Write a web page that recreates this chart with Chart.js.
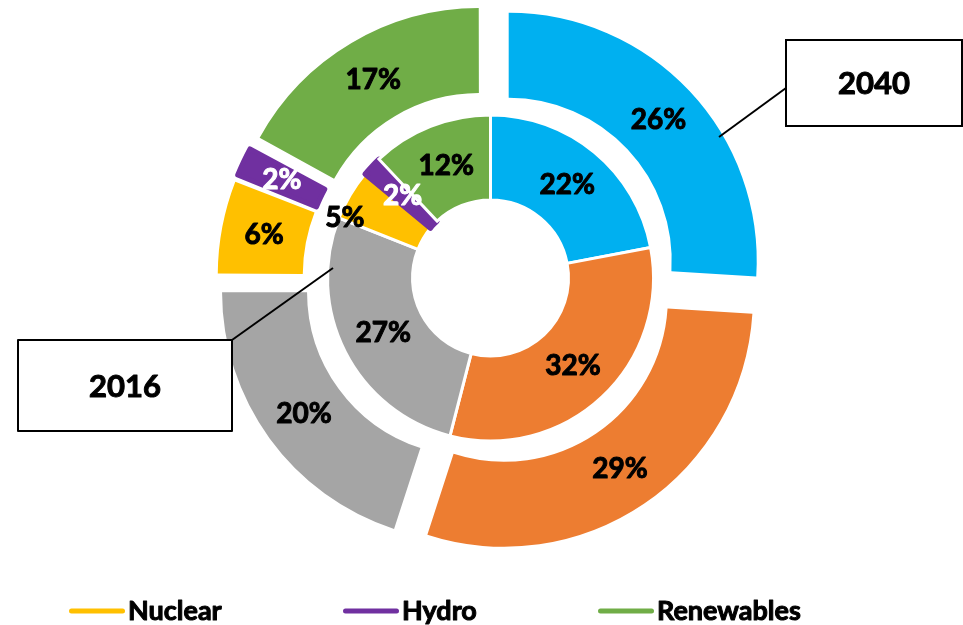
<!DOCTYPE html>
<html>
<head>
<meta charset="utf-8">
<title>Energy mix 2016 vs 2040</title>
<script src="https://cdn.jsdelivr.net/npm/chart.js@4/dist/chart.umd.min.js"></script>
<style>
  html, body { margin: 0; padding: 0; background: #ffffff; }
  #wrap { width: 963px; height: 625px; position: relative; }
</style>
</head>
<body>
<div id="wrap"><canvas id="mix" width="963" height="625"></canvas></div>
<script>
// Share of each source, in percent
const categories = ['Gas', 'Oil', 'Coal', 'Nuclear', 'Hydro', 'Renewables'];
const share2040 = [26, 29, 20, 6, 2, 17];
const share2016 = [22, 32, 27, 5, 2, 12];
const ringYears = ['2040', '2016'];
const legendEntries = ['Nuclear', 'Hydro', 'Renewables'];

const palette = ['#00B0F0', '#ED7D31', '#A5A5A5', '#FFC000', '#7030A0', '#70AD47'];
const FONT = "Lato, 'Open Sans', 'DejaVu Sans', sans-serif";
const EXPLODE = 25; // radial shift of the outer slices, px

// Chart.js moves an arc by offset/4 and widens small arcs a little more;
// scale the offset so every slice ends up shifted by the same distance.
function explodeOffset(ctx) {
  if (ctx.type !== 'data') return 0;
  const total = ctx.dataset.data.reduce((a, b) => a + b, 0);
  const circ = ctx.raw / total * 2 * Math.PI;
  const fix = 1 - Math.sin(Math.min(Math.PI, circ));
  return 4 * EXPLODE / (1 + fix);
}

// Heavy text: fill plus a thin outline in the same colour
function heavyText(ctx, text, x, y, color) {
  ctx.fillStyle = color;
  ctx.strokeStyle = color;
  ctx.lineWidth = 1;
  ctx.lineJoin = 'round';
  ctx.fillText(text, x, y);
  ctx.strokeText(text, x, y);
}

// Percent labels placed at the middle of every drawn slice
const sliceLabels = {
  id: 'sliceLabels',
  afterDatasetsDraw(chart, args, opts) {
    const ctx = chart.ctx;
    ctx.save();
    ctx.font = 'bold ' + opts.size + 'px ' + FONT;
    ctx.textAlign = 'center';
    ctx.textBaseline = 'middle';
    chart.data.datasets.forEach((ds, di) => {
      const meta = chart.getDatasetMeta(di);
      meta.data.forEach((arc, i) => {
        const p = arc.getProps(['x', 'y', 'startAngle', 'endAngle', 'innerRadius', 'outerRadius', 'circumference'], true);
        const o = (arc.options.offset || 0) / 4;
        const fix = 1 - Math.sin(Math.min(Math.PI, p.circumference));
        const mid = (p.startAngle + p.endAngle) / 2;
        const r = (p.innerRadius + p.outerRadius) / 2 + o + o * fix;
        let lx = p.x + Math.cos(mid) * r;
        let ly = p.y + Math.sin(mid) * r;
        const nudge = (opts.nudge[di] || {})[i];
        if (nudge) { lx += nudge[0]; ly += nudge[1]; }
        heavyText(ctx, ds.data[i] + '%', lx, ly, opts.colors[i]);
      });
    });
    ctx.restore();
  }
};

// Year call-out boxes with leader lines to their ring
const ringCallouts = {
  id: 'ringCallouts',
  afterDraw(chart, args, opts) {
    const ctx = chart.ctx;
    ctx.save();
    opts.items.forEach(it => {
      ctx.strokeStyle = '#000000';
      ctx.lineWidth = 2;
      ctx.beginPath();
      ctx.moveTo(it.from[0], it.from[1]);
      ctx.lineTo(it.to[0], it.to[1]);
      ctx.stroke();
      ctx.fillStyle = '#ffffff';
      ctx.fillRect(it.box[0], it.box[1], it.box[2], it.box[3]);
      ctx.strokeRect(it.box[0], it.box[1], it.box[2], it.box[3]);
      ctx.font = 'bold 31px ' + FONT;
      ctx.textAlign = 'center';
      ctx.textBaseline = 'middle';
      heavyText(ctx, chart.data.datasets[it.dataset].label,
                it.box[0] + it.box[2] / 2, it.box[1] + it.box[3] / 2 + 1, '#000000');
    });
    ctx.restore();
  }
};

// Legend drawn with short line markers
const lineLegend = {
  id: 'lineLegend',
  afterDraw(chart, args, opts) {
    const ctx = chart.ctx;
    ctx.save();
    ctx.font = 'bold 27px ' + FONT;
    ctx.textAlign = 'left';
    ctx.textBaseline = 'middle';
    opts.entries.forEach((name, k) => {
      const idx = chart.data.labels.indexOf(name);
      const color = chart.data.datasets[0].backgroundColor[idx];
      const x = opts.x[k];
      ctx.strokeStyle = color;
      ctx.lineWidth = 5;
      ctx.lineCap = 'round';
      ctx.beginPath();
      ctx.moveTo(x + 2.5, opts.y);
      ctx.lineTo(x + opts.lineLength - 2.5, opts.y);
      ctx.stroke();
      ctx.lineCap = 'butt';
      heavyText(ctx, name, x + opts.lineLength + 3, opts.y, '#000000');
    });
    ctx.restore();
  }
};

function build() {
  new Chart(document.getElementById('mix'), {
    type: 'doughnut',
    data: {
      labels: categories,
      datasets: [
        {
          label: ringYears[0],
          data: share2040,
          backgroundColor: palette,
          borderColor: palette,
          borderWidth: [0, 0, 0, 0, 5, 0],
          borderJoinStyle: 'round',
          offset: explodeOffset
        },
        {
          label: ringYears[1],
          data: share2016,
          backgroundColor: palette,
          borderColor: ['#ffffff', '#ffffff', '#ffffff', '#ffffff', '#7030A0', '#ffffff'],
          borderWidth: [3, 3, 3, 3, 5, 3],
          borderJoinStyle: ['miter', 'miter', 'miter', 'miter', 'round', 'miter'],
          offset: 0
        }
      ]
    },
    options: {
      responsive: false,
      animation: false,
      devicePixelRatio: 1,
      radius: 248,
      cutout: '31.45%',
      layout: { padding: { left: 18, right: 0, top: 0, bottom: 69 } },
      events: [],
      plugins: {
        legend: { display: false },
        tooltip: { enabled: false },
        sliceLabels: {
          size: 28,
          colors: ['#000000', '#000000', '#000000', '#000000', '#ffffff', '#000000'],
          nudge: { 1: { 3: [-42, 1] } }
        },
        ringCallouts: {
          items: [
            { dataset: 0, box: [786, 40, 176, 86], from: [786, 88], to: [719, 137] },
            { dataset: 1, box: [18, 340, 214, 91], from: [232, 340], to: [333, 268] }
          ]
        },
        lineLegend: {
          entries: legendEntries,
          x: [69, 343, 598],
          y: 611,
          lineLength: 56
        }
      }
    },
    plugins: [sliceLabels, ringCallouts, lineLegend]
  });
}

if (document.fonts && document.fonts.load) {
  Promise.all([
    document.fonts.load('bold 28px Lato'),
    document.fonts.load('bold 31px Lato')
  ]).then(build, build);
} else {
  build();
}
</script>
</body>
</html>
